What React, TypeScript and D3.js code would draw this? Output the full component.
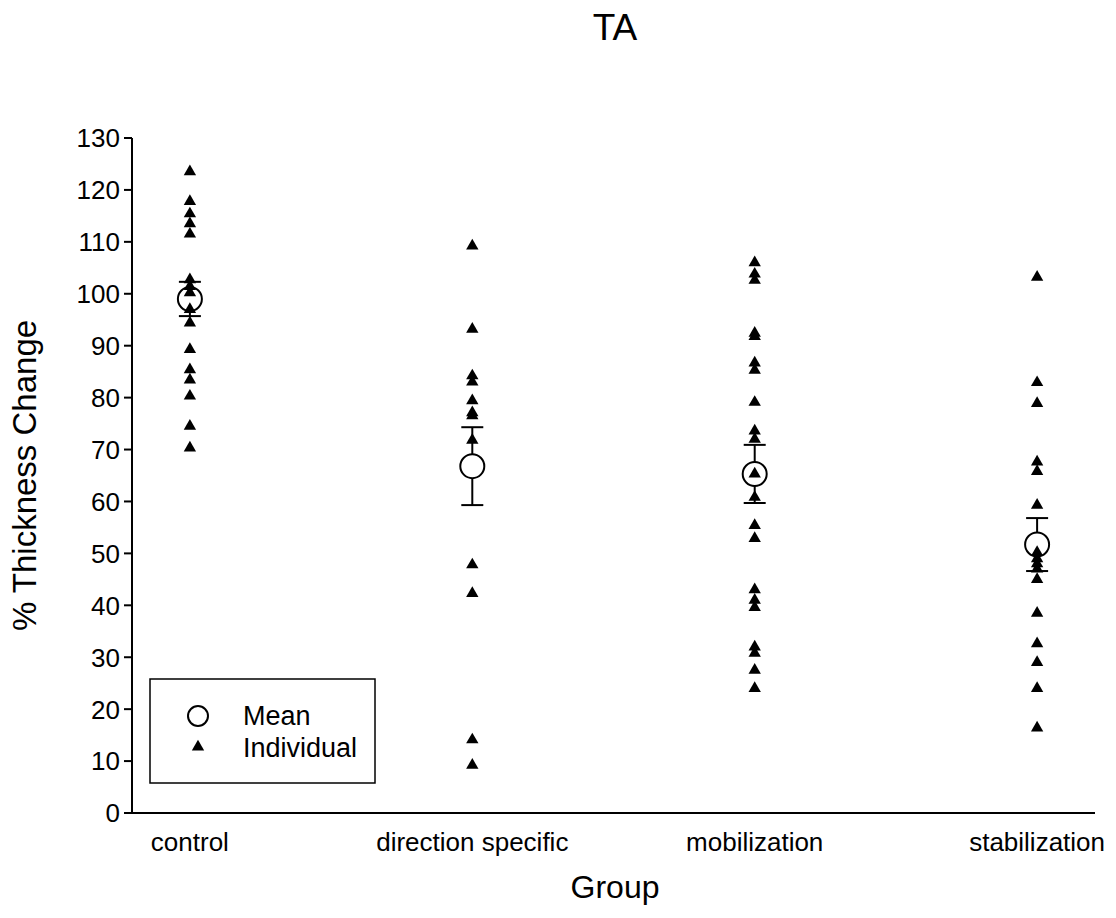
import React from "react";
import * as d3 from "d3";

const groups = ["control", "direction specific", "mobilization", "stabilization"];

const controlValues = [123.5, 117.8, 115.4, 113.5, 111.5, 102.7, 101.4, 100.2, 97, 94.4, 89.3, 85.4, 83.4, 80.3, 74.5, 70.3];
const directionValues = [109.2, 93.2, 84.2, 83, 79.4, 77.1, 76.5, 71.8, 47.8, 42.3, 14.1, 9.2];
const mobilizationValues = [106, 103.8, 102.6, 92.4, 91.8, 86.7, 85.3, 79.1, 73.6, 72, 65.3, 60.8, 55.4, 52.9, 43, 41, 39.6, 32, 30.8, 27.5, 24];
const stabilizationValues = [103.2, 82.9, 78.9, 67.6, 65.8, 59.3, 50.2, 49, 48, 47, 45, 38.5, 32.6, 29, 24, 16.4];

const individuals = [controlValues, directionValues, mobilizationValues, stabilizationValues];
const means = [99, 66.8, 65.3, 51.7];
const errors = [3.3, 7.5, 5.6, 5.1];

const yTicks = [0, 10, 20, 30, 40, 50, 60, 70, 80, 90, 100, 110, 120, 130];

const W = 1116;
const H = 918;
const FONT = "'Liberation Sans', Arial, sans-serif";

export default function App() {
  const x = d3.scalePoint<string>().domain(groups).range([132, 1095]).padding(0.205);
  const y = d3.scaleLinear().domain([0, 130]).range([813, 138]);
  const tri = d3.symbol().type(d3.symbolTriangle).size(66)();

  return (
    <svg width={W} height={H} style={{ position: "absolute", left: 0, top: 0, background: "#fff" }} fontFamily={FONT}>
      <rect x={0} y={0} width={W} height={H} fill="#fff" />
      <text x={615} y={40} textAnchor="middle" fontSize={37} fill="#000">TA</text>

      {/* axes */}
      <line x1={132} x2={132} y1={y(130)} y2={y(0)} stroke="#000" strokeWidth={2} />
      <line x1={132} x2={1095} y1={y(0)} y2={y(0)} stroke="#000" strokeWidth={2} />
      {yTicks.map((t) => (
        <g key={t}>
          <line x1={124} x2={132} y1={y(t)} y2={y(t)} stroke="#000" strokeWidth={2} />
          <text x={120} y={y(t)} dy="0.36em" textAnchor="end" fontSize={26} fill="#000">{t}</text>
        </g>
      ))}
      {groups.map((g) => (
        <text key={g} x={x(g)} y={851} textAnchor="middle" fontSize={26} fill="#000">{g}</text>
      ))}
      <text x={615} y={898} textAnchor="middle" fontSize={32} fill="#000">Group</text>
      <text transform={`translate(36,${y(65)}) rotate(-90)`} textAnchor="middle" fontSize={33} fill="#000">% Thickness Change</text>

      {/* individuals */}
      {individuals.map((vals, i) =>
        vals.map((v, j) => (
          <path key={`${i}-${j}`} d={tri as string} transform={`translate(${x(groups[i])},${y(v)})`} fill="#000" />
        ))
      )}

      {/* means with error bars */}
      {means.map((m, i) => {
        const cx = x(groups[i]) as number;
        return (
          <g key={i}>
            <line x1={cx} x2={cx} y1={y(m + errors[i])} y2={y(m) - 12} stroke="#000" strokeWidth={2} />
            <line x1={cx} x2={cx} y1={y(m) + 12} y2={y(m - errors[i])} stroke="#000" strokeWidth={2} />
            <line x1={cx - 11} x2={cx + 11} y1={y(m + errors[i])} y2={y(m + errors[i])} stroke="#000" strokeWidth={2} />
            <line x1={cx - 11} x2={cx + 11} y1={y(m - errors[i])} y2={y(m - errors[i])} stroke="#000" strokeWidth={2} />
            <circle cx={cx} cy={y(m)} r={12} fill="none" stroke="#000" strokeWidth={2} />
          </g>
        );
      })}

      {/* legend */}
      <rect x={150} y={679} width={225} height={104} fill="#fff" stroke="#000" strokeWidth={1.5} />
      <circle cx={198} cy={716} r={10} fill="none" stroke="#000" strokeWidth={2} />
      <path d={tri as string} transform="translate(198,747)" fill="#000" />
      <text x={243} y={725} fontSize={27} fill="#000">Mean</text>
      <text x={243} y={757} fontSize={27} fill="#000">Individual</text>
    </svg>
  );
}
